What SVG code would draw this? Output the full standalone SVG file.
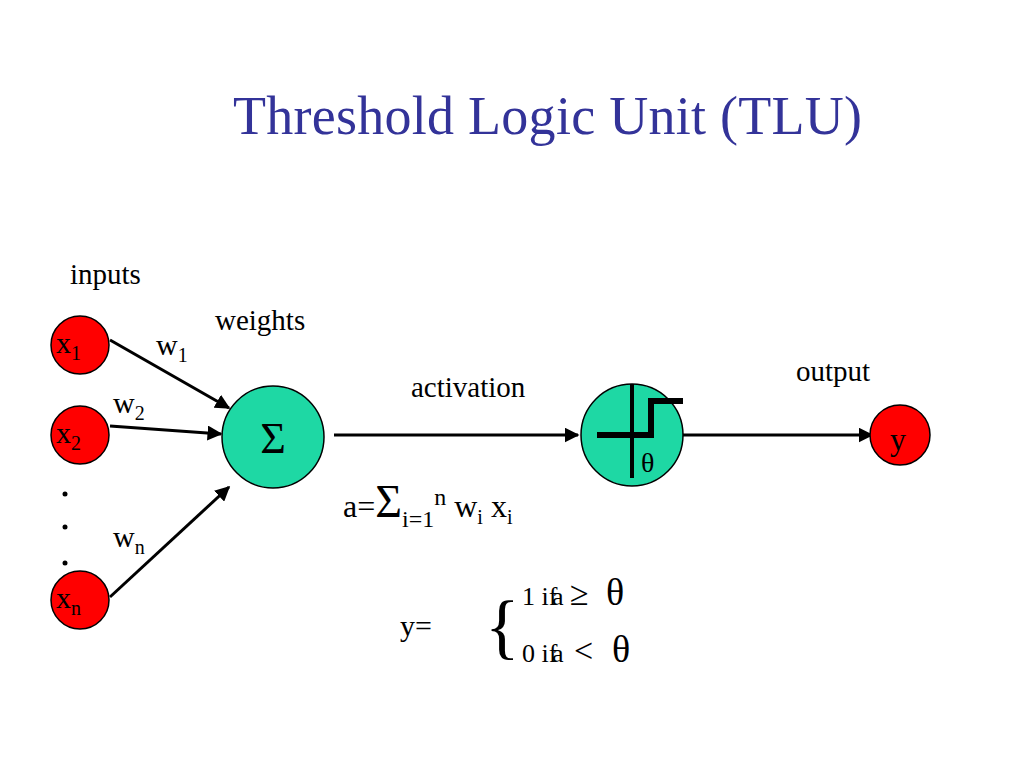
<svg xmlns="http://www.w3.org/2000/svg" width="1024" height="768" viewBox="0 0 1024 768" font-family="'Liberation Serif', 'DejaVu Serif', serif">
<defs>
<style>
.in{fill:#ff0000;stroke:#000;stroke-width:1.5}
.gr{fill:#1ed8a4;stroke:#000;stroke-width:1.5}
.c{stroke:#000;stroke-width:3;fill:none}
</style>
<marker id="ah" viewBox="0 0 10 10" refX="9" refY="5" markerWidth="5" markerHeight="5" orient="auto" markerUnits="strokeWidth"><path d="M0,0 L10,5 L0,10 z" fill="#000"/></marker>
</defs>
<rect width="1024" height="768" fill="#fff"/>
<text x="233" y="134" font-size="54" fill="#333399" textLength="629">Threshold Logic Unit (TLU)</text>
<text x="70" y="284" font-size="29">inputs</text>
<text x="215" y="330" font-size="29">weights</text>
<text x="411" y="397" font-size="29">activation</text>
<text x="796" y="381" font-size="29">output</text>
<g id="connectors">
<line class="c" x1="110" y1="340" x2="229" y2="408" marker-end="url(#ah)"/>
<line class="c" x1="110" y1="426" x2="221" y2="434" marker-end="url(#ah)"/>
<line class="c" x1="110" y1="597" x2="229" y2="487" marker-end="url(#ah)"/>
<line class="c" x1="334" y1="435" x2="578" y2="435" marker-end="url(#ah)"/>
<line class="c" x1="680" y1="435" x2="872" y2="435" marker-end="url(#ah)"/>
</g>
<text x="156" y="355" font-size="30">w<tspan font-size="20" dy="7">1</tspan></text>
<text x="113" y="413" font-size="30">w<tspan font-size="20" dy="7">2</tspan></text>
<text x="113" y="547" font-size="30">w<tspan font-size="20" dy="7">n</tspan></text>
<g id="x1"><circle class="in" cx="80" cy="345" r="29"/><text x="56" y="353" font-size="30">x<tspan font-size="20" dy="7">1</tspan></text></g>
<g id="x2"><circle class="in" cx="80" cy="435" r="29"/><text x="56" y="443" font-size="30">x<tspan font-size="20" dy="7">2</tspan></text></g>
<g id="dots"><circle cx="65" cy="494" r="2.5"/><circle cx="65" cy="527" r="2.5"/><circle cx="65" cy="563" r="2.5"/></g>
<g id="xn"><circle class="in" cx="80" cy="600" r="29"/><text x="56" y="608" font-size="30">x<tspan font-size="20" dy="7">n</tspan></text></g>
<g id="sum"><circle class="gr" cx="273" cy="437" r="51"/><text x="273" y="453" font-size="44" text-anchor="middle">Σ</text></g>
<g id="step"><circle class="gr" cx="632" cy="435" r="51"/>
<line x1="632" y1="384" x2="632" y2="478" stroke="#000" stroke-width="4"/>
<polyline points="597,435 651,435 651,401 683,401" fill="none" stroke="#000" stroke-width="6"/>
<text x="641" y="472" font-size="28">θ</text></g>
<g id="y"><circle class="in" cx="900" cy="435" r="30"/><text x="890" y="450" font-size="32">y</text></g>
<text x="343" y="517" font-size="32">a=<tspan font-size="46">Σ</tspan><tspan font-size="24" dy="10">i=1</tspan><tspan font-size="24" dy="-22">n</tspan><tspan dy="12"> w</tspan><tspan font-size="20" dy="7">i</tspan><tspan dy="-7"> x</tspan><tspan font-size="20" dy="7">i</tspan></text>
<text x="400" y="636" font-size="30">y=</text>
<text x="485" y="650" font-size="72">{</text>
<text x="522" y="605" font-size="26">1 if <tspan x="552">a</tspan><tspan x="570" font-size="34">≥</tspan><tspan x="606" font-size="38">θ</tspan></text>
<text x="522" y="662" font-size="26">0 if <tspan x="552">a</tspan><tspan x="574" font-size="34">&lt;</tspan><tspan x="612" font-size="38">θ</tspan></text>
</svg>
